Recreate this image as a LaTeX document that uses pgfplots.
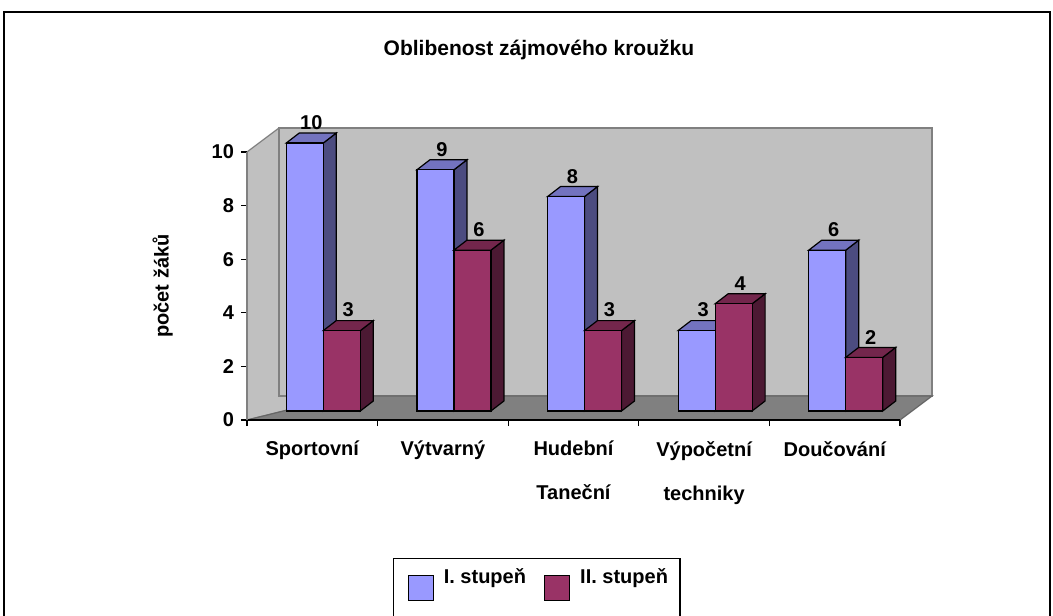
\documentclass[border=0pt]{standalone}
\usepackage{fontspec}
\setmainfont{Liberation Sans}
\usepackage{pgfplots}
\pgfplotsset{compat=1.18}
\usepackage{pgfplotstable}
\usetikzlibrary{calc}

\definecolor{blueF}{HTML}{9999FF}
\definecolor{blueT}{HTML}{7373BF}
\definecolor{blueS}{HTML}{4C4C80}
\definecolor{redF}{HTML}{993366}
\definecolor{redT}{HTML}{73264C}
\definecolor{redS}{HTML}{4C1933}
\definecolor{wallC}{HTML}{C0C0C0}
\definecolor{floorC}{HTML}{808080}

\newcommand\lbl{\fontsize{10}{12}\selectfont\bfseries}
\pgfdeclareplotmark{nix}{}

\pgfplotstableread{
x  a   b
0  10  3
1  9   6
2  8   3
3  3   4
4  6   2
}\kruzky

% a 3D column around each data point
% #1 left edge of front face (from category centre), #2 front, #3 top, #4 side
\pgfplotsset{
  column3d/.style n args={4}{
    forget plot, only marks, scatter, mark=nix,
    visualization depends on={rawy \as \val},
    scatter/@pre marker code/.code={%
      \pgfmathsetlengthmacro\h{\val*13.4pt}%
      \filldraw[fill=#4, draw=black, line width=0.6pt]
        (#1+18.5pt, 4.5pt-\h) -- (#1+18.5pt, 4.5pt) -- (#1+25pt, 9.5pt)
        -- (#1+25pt, 9.5pt-\h) -- cycle;
      \filldraw[fill=#3, draw=black, line width=0.6pt]
        (#1, 4.5pt) -- (#1+18.5pt, 4.5pt) -- (#1+25pt, 9.5pt)
        -- (#1+6.5pt, 9.5pt) -- cycle;
      \filldraw[fill=#2, draw=black, line width=0.6pt]
        (#1, 4.5pt-\h) rectangle (#1+18.5pt, 4.5pt);
      \node[anchor=south, inner sep=0pt, font=\lbl] at (#1+12.5pt, 11pt) {\pgfmathprintnumber{\val}};
    },
    scatter/@post marker code/.code={},
  },
}

\begin{document}
\begin{tikzpicture}
\begin{axis}[
  at={(0,0)}, anchor=south west,
  x=65.3pt, y=13.4pt,
  xmin=-0.5, xmax=4.5, ymin=0, ymax=10,
  clip=false, axis on top,
  axis x line*=bottom, axis y line*=left,
  x axis line style={-, black, line width=0.6pt},
  y axis line style={-, floorC, line width=0.6pt},
  tick align=outside, major tick length=3pt,
  tick style={black, line width=0.6pt},
  xtick={-0.5,0.5,...,4.5}, x tick label as interval,
  xticklabels={Sportovní, Výtvarný, {Hudební\\[10pt]Taneční}, {Výpočetní\\[10pt]techniky}, Doučování},
  xticklabel style={align=center, font=\lbl, yshift=-4pt},
  ytick={0,2,...,10},
  yticklabel style={font=\lbl},
  /pgf/number format/assume math mode=true,
  title={Oblibenost zájmového kroužku},
  title style={at={(0.447,1.336)}, anchor=center, yshift=0pt, font=\fontsize{10.5}{12}\selectfont\bfseries},
  ylabel={počet žáků},
  ylabel style={at={(-0.1290,0.5)}, anchor=center, font=\lbl},
  legend columns=2,
  legend style={at={(0.2236,-0.515)}, anchor=north west, draw=black, line width=0.6pt,
    font=\lbl, inner xsep=4pt, inner ysep=3pt,
    /tikz/every even column/.append style={column sep=4pt}},
  legend image code/.code={%
    \filldraw[#1, draw=black, line width=0.6pt] (0pt,-11.5pt) rectangle (12.5pt,1pt);
    \path (-3pt,0pt) (15.5pt,0pt) (0pt,-30pt);},
]
  % walls and floor
  \filldraw[fill=wallC, draw=floorC, line width=0.6pt]
    (axis cs:-0.5,0) -- (axis cs:-0.5,10) -- ++(16pt,12pt) -- ++(0,-134pt) -- cycle;
  \filldraw[fill=wallC, draw=floorC, line width=0.6pt]
    ($(axis cs:-0.5,0)+(16pt,12pt)$) rectangle ($(axis cs:4.5,10)+(16pt,12pt)$);
  \filldraw[fill=floorC, draw=black!60, line width=0.6pt]
    (axis cs:-0.5,0) -- (axis cs:4.5,0) -- ++(16pt,12pt) -- ++(-326.5pt,0) -- cycle;

  \addplot[column3d={-13pt}{blueF}{blueT}{blueS}] table[x=x, y=a] {\kruzky};
  \addplot[column3d={5.5pt}{redF}{redT}{redS}] table[x=x, y=b] {\kruzky};

  \addlegendimage{fill=blueF}
  \addlegendentry{I. stupeň}
  \addlegendimage{fill=redF}
  \addlegendentry{II. stupeň}
\end{axis}
\begin{scope}[x=0.5pt, y=-0.5pt, shift={(-123.5pt,210pt)}]
  \draw[black, line width=0.6pt] (4,12) rectangle (1050,660);
\end{scope}
\pgfresetboundingbox
\path[use as bounding box] (-123.5pt,210pt) rectangle (403pt,-97.5pt);
\end{tikzpicture}
\end{document}
